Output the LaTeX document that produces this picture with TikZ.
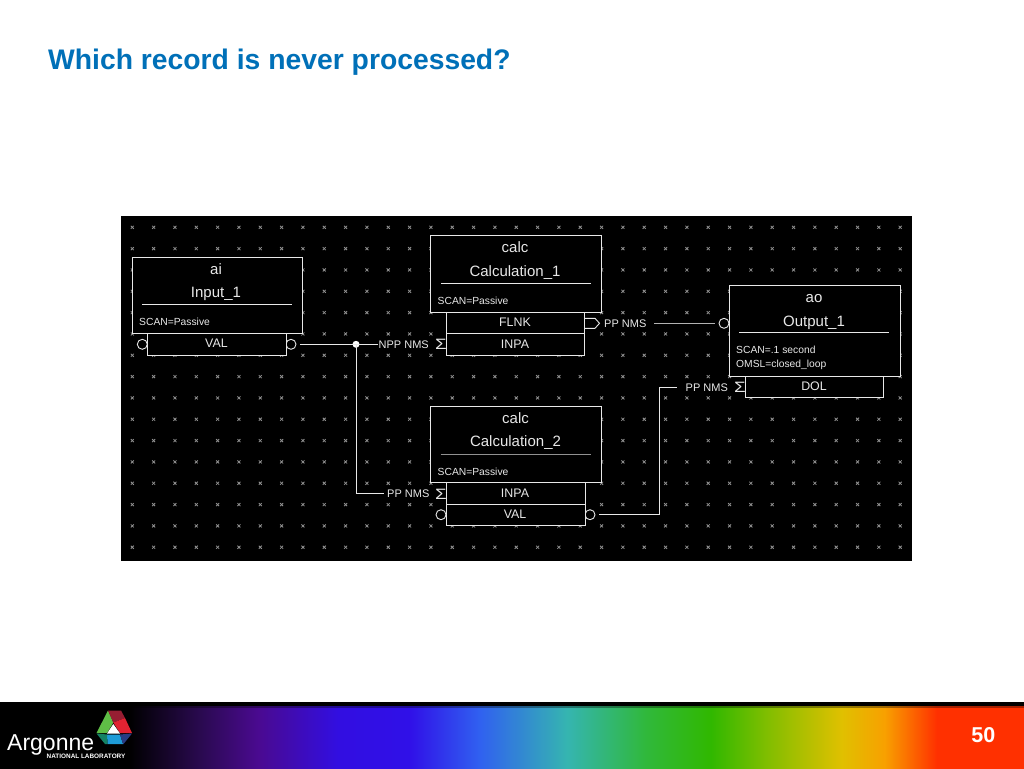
\documentclass[tikz,border=0pt]{standalone}
\usepackage{fontspec}
\setmainfont{Liberation Sans}
\newcommand{\fsz}[1]{\fontsize{#1}{#1}\selectfont}
\newcommand{\sigmamark}{\scalebox{1.25}[1]{Σ}}
\definecolor{ra}{RGB}{42,10,80}
\definecolor{rb}{RGB}{74,10,144}
\definecolor{rc}{RGB}{50,14,225}
\definecolor{rd}{RGB}{48,16,232}
\definecolor{re}{RGB}{48,96,240}
\definecolor{rf}{RGB}{53,181,176}
\definecolor{rg}{RGB}{48,184,60}
\definecolor{rh}{RGB}{48,184,0}
\definecolor{ri}{RGB}{130,190,0}
\definecolor{rj}{RGB}{224,192,0}
\definecolor{rk}{RGB}{248,160,0}
\definecolor{rl}{RGB}{255,48,0}
\pgfdeclarehorizontalshading{rainbowbar}{100bp}{
 color(0bp)=(black);
 color(31.3bp)=(black);
 color(34.8bp)=(ra);
 color(37.6bp)=(rb);
 color(41.5bp)=(rc);
 color(45bp)=(rd);
 color(48.4bp)=(re);
 color(52.7bp)=(rf);
 color(56.5bp)=(rg);
 color(59.7bp)=(rh);
 color(62.5bp)=(ri);
 color(66.1bp)=(rj);
 color(68.2bp)=(rk);
 color(70.75bp)=(rl);
 color(100bp)=(rl)}
\definecolor{titleblue}{RGB}{0,112,184}
\definecolor{epwhite}{RGB}{232,232,232}
\definecolor{epgrid}{RGB}{145,145,145}
\definecolor{logogreen}{RGB}{95,190,70}
\definecolor{logodkred}{RGB}{150,30,50}
\definecolor{logored}{RGB}{225,35,50}
\definecolor{logoblue}{RGB}{30,155,215}
\definecolor{logoteal}{RGB}{20,130,100}
\definecolor{logonavy}{RGB}{40,60,130}
\tikzset{
 blockbox/.style={draw=epwhite,fill=black,line width=0.9pt,inner sep=0pt,outer sep=0pt,anchor=north west},
 bigtext/.style={text=epwhite,inner sep=0pt,anchor=base,font=\fsz{15}},
 smalltext/.style={text=epwhite,inner sep=0pt,anchor=base west,font=\fsz{10.3}},
 fieldtext/.style={text=epwhite,inner sep=0pt,anchor=base,font=\fsz{12.4}},
 linktext/.style={text=epwhite,inner sep=0pt,anchor=base west,font=\fsz{11}},
 sigmatext/.style={text=epwhite,inner sep=0pt,anchor=base,font=\fsz{15}},
 portcircle/.style={circle,draw=epwhite,line width=0.9pt,minimum size=10pt,inner sep=0pt},
 wire/.style={draw=epwhite,line width=1pt},
 ruleline/.style={draw=epwhite,line width=0.9pt}
}
\begin{document}
\begin{tikzpicture}[x=1pt,y=-1pt]
\useasboundingbox (0,0) rectangle (1024,768);
\fill[white] (0,0) rectangle (1024,768);
% title
\node[anchor=base west,inner sep=0pt,text=titleblue,font=\fsz{28.3}\bfseries] (title) at (48,70) {Which record is never processed?};
% diagram background
\fill[black] (121,216) rectangle (912,560.5);
\foreach \i in {0,...,36}{\foreach \j in {0,...,15}{
  \pgfmathsetmacro{\gx}{132.3+21.33*\i}
  \pgfmathsetmacro{\gy}{227.3+21.33*\j}
  \draw[epgrid,line width=0.8pt] (\gx-1.5,\gy-1.5) -- (\gx+1.5,\gy+1.5) (\gx-1.5,\gy+1.5) -- (\gx+1.5,\gy-1.5);
}}
% port circles (partly hidden by the blocks)
\node[portcircle] (aiL) at (142.3,344.3) {};
\node[portcircle] (aiR) at (291,344.3) {};
\node[portcircle] (c2L) at (441,514.7) {};
\node[portcircle] (c2R) at (590,514.7) {};
\node[portcircle] (aoL) at (724,323.3) {};
% field rows
\node[blockbox,minimum width=138.7pt,minimum height=21.3pt] (aival) at (147.3,333.7) {};
\node[blockbox,minimum width=138.7pt,minimum height=20.6pt] (c1flnk) at (446,312.7) {};
\node[blockbox,minimum width=138.7pt,minimum height=21.7pt] (c1inpa) at (446,333.3) {};
\node[blockbox,minimum width=138.7pt,minimum height=21.3pt] (c2inpa) at (446.3,482.7) {};
\node[blockbox,minimum width=138.7pt,minimum height=21.3pt] (c2val) at (446.3,504) {};
\node[blockbox,minimum width=138.7pt,minimum height=21pt] (aodol) at (745,376) {};
% record boxes
\node[blockbox,minimum width=170.5pt,minimum height=76.7pt] (aibox) at (132.3,257) {};
\node[blockbox,minimum width=171pt,minimum height=77pt] (c1box) at (430.7,235.7) {};
\node[blockbox,minimum width=171pt,minimum height=76.4pt] (c2box) at (430.5,406.3) {};
\node[blockbox,minimum width=171pt,minimum height=91pt] (aobox) at (729,285) {};
% rules
\draw[ruleline] (142.3,304.3) -- (292.3,304.3);
\draw[ruleline] (441,283.3) -- (591,283.3);
\draw[ruleline,epgrid] (440.7,454) -- (590.7,454);
\draw[ruleline] (739,332) -- (889,332);
% ai
\node[bigtext] (t1) at (216,274) {ai};
\node[bigtext] (t2) at (216,297.7) {Input\_1};
\node[smalltext] (t3) at (139,325.7) {SCAN=Passive};
\node[fieldtext] (t4) at (216.5,347.3) {VAL};
% calc 1
\node[bigtext] (t5) at (515,252.7) {calc};
\node[bigtext] (t6) at (515,276) {Calculation\_1};
\node[smalltext] (t7) at (437.5,304) {SCAN=Passive};
\node[fieldtext] (t8) at (515,326.7) {FLNK};
\node[fieldtext] (t9) at (515,348) {INPA};
% calc 2
\node[bigtext] (t10) at (515.5,423) {calc};
\node[bigtext] (t11) at (515.5,446.7) {Calculation\_2};
\node[smalltext] (t12) at (437.5,475.3) {SCAN=Passive};
\node[fieldtext] (t13) at (515,497) {INPA};
\node[fieldtext] (t14) at (515,518.3) {VAL};
% ao
\node[bigtext] (t15) at (814,302.3) {ao};
\node[bigtext] (t16) at (814,326) {Output\_1};
\node[smalltext] (t17) at (736,353.3) {SCAN=.1 second};
\node[smalltext] (t18) at (736,367.7) {OMSL=closed\_loop};
\node[fieldtext] (t19) at (814,390.7) {DOL};
% link labels
\node[linktext] (npp) at (378.5,348) {NPP NMS};
\node[sigmatext] (s1) at (441,349.7) {\sigmamark};
\node[linktext] (pp1) at (387,497.7) {PP NMS};
\node[sigmatext] (s2) at (441,499) {\sigmamark};
\node[linktext] (pp2) at (604,327) {PP NMS};
\node[linktext] (pp3) at (685.5,391) {PP NMS};
\node[sigmatext] (s3) at (740,392.3) {\sigmamark};
% FLNK output port
\coordinate (fl1) at (585,318.3);
\coordinate (fl2) at (595,318.3);
\coordinate (fl3) at (599.5,323.3);
\coordinate (fl4) at (595,328.3);
\coordinate (fl5) at (585,328.3);
\draw[ruleline] (fl1) -- (fl2) -- (fl3) -- (fl4) -- (fl5);
% wires
\coordinate (w1s) at (300,344.3);
\coordinate (w1e) at (378,344.3);
\node[circle,fill=white,minimum size=7pt,inner sep=0pt] (junc) at (356,344.3) {};
\coordinate (w2e) at (384,493.3);
\coordinate (w3s) at (654.3,323.3);
\coordinate (w3e) at (715,323.3);
\coordinate (w4s) at (599.3,514.7);
\coordinate (w4c) at (659.7,514.7);
\coordinate (w4d) at (659.7,387);
\coordinate (w4e) at (677,387);
\draw[wire] (w1s) -- (w1e);
\draw[wire] (junc.center) |- (w2e);
\draw[wire,draw=epgrid!70!white] (w3s) -- (w3e);
\draw[wire] (w4s) -- (w4c) -- (w4d) -- (w4e);
% footer
\fill[black] (0,702) rectangle (1024,707);
\shade[shading=rainbowbar] (0,706) rectangle (1024,768);
\fill[black,opacity=0.35] (0,706) rectangle (1024,708);
% logo triangle
\fill[logogreen] (108,710.5) -- (96.5,733) -- (107,733) -- (113.3,722.5) -- cycle;
\fill[logodkred] (108,710.5) -- (121,710.5) -- (125,718) -- (113.3,722.5) -- cycle;
\fill[logored] (113.3,722.5) -- (125,718) -- (132,733) -- (120,733) -- cycle;
\fill[logoblue] (107,734.5) -- (120,734.5) -- (123,744) -- (107.5,744) -- cycle;
\fill[logoteal] (96.5,733.5) -- (107,734.5) -- (107.5,744) -- (105,744) -- cycle;
\fill[logonavy] (120,734.5) -- (132,733.5) -- (123.5,744) -- (123,744) -- cycle;
\fill[white] (113.3,724) -- (107,733.5) -- (120,733.5) -- cycle;
\node[anchor=base west,inner sep=0pt,text=white,font=\fsz{23}] (argonne) at (7,750) {Argonne};
\node[anchor=base west,inner sep=0pt,text=white,font=\fsz{6.4}\bfseries] (natlab) at (46.5,758.5) {NATIONAL LABORATORY};
\node[anchor=base east,inner sep=0pt,text=white,font=\fsz{21.5}\bfseries] (pagenum) at (995.5,742) {50};
\end{tikzpicture}
\end{document}
